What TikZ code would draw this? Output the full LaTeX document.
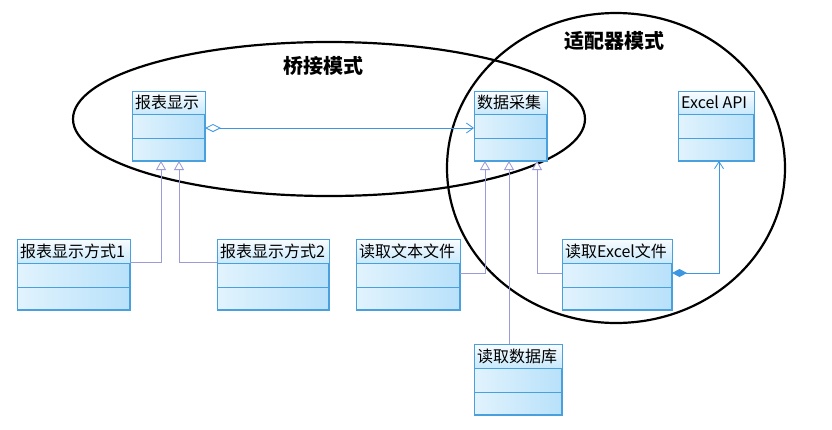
\documentclass[tikz,border=0pt]{standalone}
\usepackage{fontspec}
\newfontfamily\cjk{Noto Sans CJK SC}
\usetikzlibrary{arrows.meta,calc}
\definecolor{boxline}{RGB}{74,160,220}
\definecolor{genline}{RGB}{155,155,215}
\definecolor{assocline}{RGB}{60,150,225}
\definecolor{fillA}{RGB}{225,243,253}
\definecolor{fillB}{RGB}{184,225,250}
\definecolor{titA}{RGB}{248,252,255}
\definecolor{titB}{RGB}{200,233,252}
\tikzset{
  classbox/.style={draw=boxline, line width=1pt, left color=fillA, right color=fillB, inner sep=0pt, anchor=north west},
  classtext/.style={font=\cjk\fontsize{16}{18}\selectfont, inner sep=0pt, anchor=west, text=black},
  ring/.style={draw=black, line width=2.2pt},
  titletext/.style={font=\cjk\bfseries\fontsize{20}{22}\selectfont, inner sep=0pt},
  gen/.style={draw=genline, line width=0.8pt, -{Triangle[open, width=10pt, length=9pt, fill=white]}},
  assoc/.style={draw=assocline, line width=0.8pt},
}
\newcommand\umlclass[7]{%
  \node[classbox, minimum width=#4pt, minimum height=#5pt] (#1) at (#2,-#3) {};
  \shade[top color=titA, bottom color=titB] ($(#1.north west)+(0.5,-0.5)$) rectangle ($(#1.north east)+(-0.5,-#6)$);
  \draw[boxline, line width=1pt] (#1.north west) rectangle (#1.south east);
  \draw[boxline, line width=1pt] ($(#1.north west)+(0,-#6)$) -- ($(#1.north east)+(0,-#6)$);
  \draw[boxline, line width=1pt] ($(#1.south west)+(0,{(#5-#6)/2})$) -- ($(#1.south east)+(0,{(#5-#6)/2})$);
  \node[classtext] (#1-name) at ($(#1.north west)+(3,{-#6/2})$) {#7};
}
\begin{document}
\begin{tikzpicture}[x=1pt,y=1pt]
\useasboundingbox (0,0) rectangle (832,-429);
% pattern outlines
\draw[ring] (329,-119) ellipse [x radius=256, y radius=77];
\draw[ring] (616,-168) ellipse [x radius=169, y radius=155];
\node[titletext] (bridge) at (323,-66) {桥接模式};
\node[titletext] (adapter) at (614,-41) {适配器模式};
% classes
\umlclass{bx}{132}{91}{72}{69}{23}{报表显示}
\umlclass{dc}{474}{91}{72}{69}{23}{数据采集}
\umlclass{api}{678}{91}{75}{69}{23}{Excel API}
\umlclass{m1}{17}{239}{112}{70}{24}{报表显示方式1}
\umlclass{m2}{217}{239}{111}{70}{24}{报表显示方式2}
\umlclass{tf}{356}{239}{103}{70}{24}{读取文本文件}
\umlclass{ex}{562}{239}{109}{70}{24}{读取Excel文件}
\umlclass{db}{474}{344}{87}{70}{24}{读取数据库}
% generalizations
\draw[gen] ($(m1.north east)+(0,-23)$) -| ($(bx.south west)+(29,0)$);
\draw[gen] ($(m2.north west)+(0,-23)$) -| ($(bx.south west)+(47,0)$);
\draw[gen] ($(tf.north east)+(0,-34)$) -| ($(dc.south west)+(11,0)$);
\draw[gen] ($(db.north west)+(35,0)$) -- ($(dc.south west)+(35,0)$);
\draw[gen] ($(ex.north west)+(0,-34)$) -| ($(dc.south west)+(63,0)$);
% aggregation
\draw[assoc, {Diamond[open, width=8pt, length=16pt, fill=white]}-{Straight Barb[width=10pt, length=7pt]}]
  ($(bx.north east)+(0,-37)$) -- ($(dc.north west)+(0,-37)$);
% composition
\draw[assoc, {Diamond[width=8pt, length=15pt, fill=assocline]}-{Straight Barb[width=9pt, length=7pt]}]
  ($(ex.north east)+(0,-34)$) -| ($(api.south west)+(41,0)$);
\end{tikzpicture}
\end{document}
